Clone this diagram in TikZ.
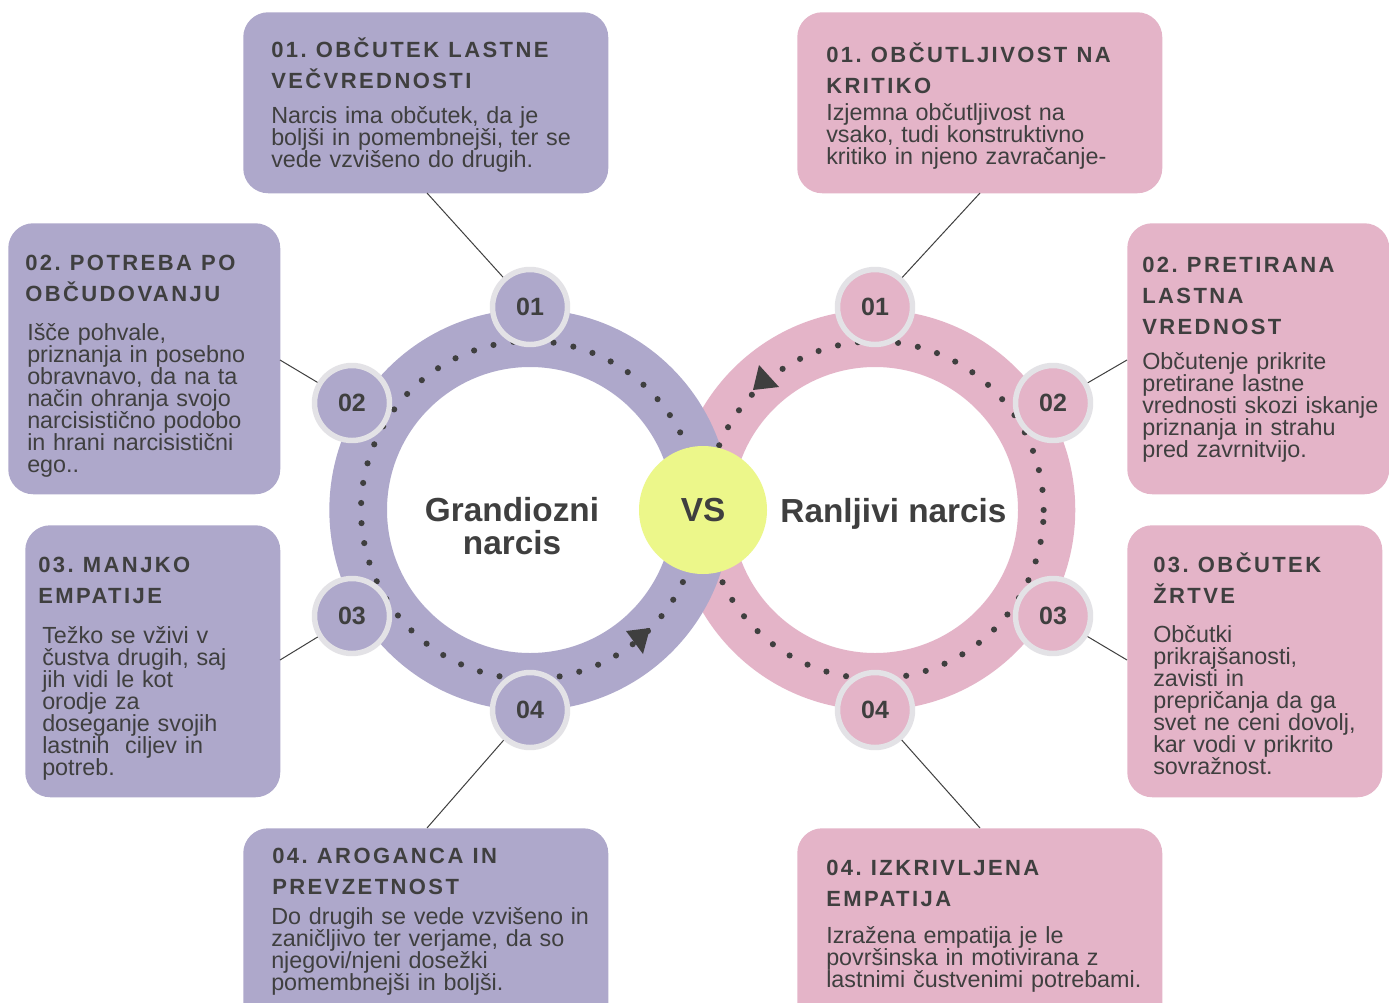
\documentclass[tikz,border=0pt]{standalone}
\usepackage{fontspec}
\setmainfont{Liberation Sans}
\newfontfamily\headfam[LetterSpace=11]{Liberation Sans}
\definecolor{lav}{HTML}{AEA8CB}
\definecolor{rose}{HTML}{E4B4C8}
\definecolor{vsyellow}{HTML}{ECF78A}
\definecolor{ringgrey}{HTML}{E3E2E6}
\definecolor{ink}{HTML}{3F3F3F}
\newcommand{\hdfont}{\headfam\bfseries\fontsize{16.5pt}{23.25pt}\selectfont\lineskiplimit=-100pt}
\newcommand{\bdfont}{\fontsize{17.5pt}{16.5pt}\selectfont\lineskiplimit=-100pt}
\newcommand{\numfont}{\bfseries\fontsize{18.75pt}{20pt}\selectfont}
\newcommand{\ttlfont}{\bfseries\fontsize{25pt}{24.75pt}\selectfont\lineskiplimit=-100pt}
\newcommand{\ws}{\hspace{0.42em}}
\tikzset{
  box/.style={rectangle, rounded corners=18.75pt, inner sep=0pt, anchor=north west},
  lbox/.style={box, fill=lav},
  rbox/.style={box, fill=rose},
  num/.style={circle, minimum size=56.25pt, inner sep=0pt, line width=4.1pt, draw=ringgrey, font=\numfont, text=ink},
  conn/.style={draw=ink, line width=0.75pt},
  head/.style={anchor=base west, inner sep=0pt, align=left, text=ink, font=\hdfont},
  body/.style={anchor=base west, inner sep=0pt, align=left, text=ink, font=\bdfont},
  ttl/.style={inner sep=0pt, text=ink, font=\ttlfont},
  dots/.style={draw=ink, line width=4.6pt, line cap=round, dash pattern=on 0pt off 15.115pt},
  tip/.style={fill=ink},
}
\begin{document}
\begin{tikzpicture}[x=0.75pt,y=-0.75pt]
\useasboundingbox (0,0) rectangle (1389,1003);
\clip (0,0) rectangle (1389,1003);
\fill[white] (0,0) rectangle (1389,1003);

% boxes
\node[lbox, minimum width=273.75pt, minimum height=135.75pt] (L1) at (243,12) {};
\node[lbox, minimum width=204pt, minimum height=203.25pt] (L2) at (8,223) {};
\node[lbox, minimum width=191.25pt, minimum height=204pt] (L3) at (25,525) {};
\node[lbox, minimum width=273.75pt, minimum height=150pt] (L4) at (243,828) {};
\node[rbox, minimum width=273.75pt, minimum height=135.75pt] (R1) at (797,12) {};
\node[rbox, minimum width=196.5pt, minimum height=203.25pt] (R2) at (1127,223) {};
\node[rbox, minimum width=191.25pt, minimum height=204pt] (R3) at (1127,525) {};
\node[rbox, minimum width=273.75pt, minimum height=150pt] (R4) at (797,828) {};

% box texts
\node[head, text width=258.75pt] (L1h) at (271,57) {01.\ws OBČUTEK\ws LASTNE\\VEČVREDNOSTI};
\node[body, text width=258.75pt] (L1b) at (271,123) {Narcis ima občutek, da je\\boljši in pomembnejši, ter se\\vede vzvišeno do drugih.};
\node[head, text width=195pt] (L2h) at (25,270) {02.\ws POTREBA\ws PO\\OBČUDOVANJU};
\node[body, text width=195pt] (L2b) at (27,340) {Išče pohvale,\\priznanja in posebno\\obravnavo, da na ta\\način ohranja svojo\\narcisistično podobo\\in hrani narcisistični\\ego..};
\node[head, text width=180pt] (L3h) at (38,572) {03.\ws MANJKO\\EMPATIJE};
\node[body, text width=180pt] (L3b) at (42,643) {Težko se vživi v\\čustva drugih, saj\\jih vidi le kot\\orodje za\\doseganje svojih\\lastnih\ \ ciljev in\\potreb.};
\node[head, text width=258.75pt] (L4h) at (272,863) {04.\ws AROGANCA\ws IN\\PREVZETNOST};
\node[body, text width=258.75pt] (L4b) at (271,924) {Do drugih se vede vzvišeno in\\zaničljivo ter verjame, da so\\njegovi/njeni dosežki\\pomembnejši in boljši.};
\node[head, text width=258.75pt] (R1h) at (826,62) {01.\ws OBČUTLJIVOST\ws NA\\KRITIKO};
\node[body, text width=258.75pt] (R1b) at (826,120) {Izjemna občutljivost na\\vsako, tudi konstruktivno\\kritiko in njeno zavračanje-};
\node[head, text width=180pt] (R2h) at (1142,272) {02.\ws PRETIRANA\\LASTNA\\VREDNOST};
\node[body, text width=180pt] (R2b) at (1142,369) {Občutenje prikrite\\pretirane lastne\\vrednosti skozi iskanje\\priznanja in strahu\\pred zavrnitvijo.};
\node[head, text width=168pt] (R3h) at (1153,572) {03.\ws OBČUTEK\\ŽRTVE};
\node[body, text width=168pt] (R3b) at (1153,642) {Občutki\\prikrajšanosti,\\zavisti in\\prepričanja da ga\\svet ne ceni dovolj,\\kar vodi v prikrito\\sovražnost.};
\node[head, text width=258.75pt] (R4h) at (826,875) {04.\ws IZKRIVLJENA\\EMPATIJA};
\node[body, text width=258.75pt] (R4b) at (826,943) {Izražena empatija je le\\površinska in motivirana z\\lastnimi čustvenimi potrebami.};

% rings
\fill[rose, even odd rule] (875,510) circle[radius=150.2pt] (875,510) circle[radius=107.25pt];
\fill[lav, even odd rule] (530,510) circle[radius=150.5pt] (530,510) circle[radius=107.25pt];
\draw[dots] (530,510) circle[radius=126.75pt];
\draw[dots] (875,510) circle[radius=126.5pt];
\fill[tip] (650,628) -- (626,631) -- (643,654) -- cycle;
\fill[tip] (753,390) -- (759,365) -- (779,387) -- cycle;

% titles
\node[ttl, text width=160pt, align=center, anchor=base] (gt) at (512,521) {Grandiozni\\narcis};
\node[ttl, anchor=base] (rt) at (893.5,522) {Ranljivi narcis};
\node[circle, fill=vsyellow, minimum size=96pt, inner sep=0pt, text=ink, font=\ttlfont] (vs) at (703,510) {VS};

% connector end points
\coordinate (l1e) at (427,193);
\coordinate (l2e) at (280,360);
\coordinate (l3e) at (280,660);
\coordinate (l4e) at (427,828);
\coordinate (r1e) at (980,193);
\coordinate (r2e) at (1127,360);
\coordinate (r3e) at (1127,660);
\coordinate (r4e) at (980,828);

% number circles
\node[num, fill=lav] (l1) at (530,307) {01};
\node[num, fill=lav] (l2) at (352,403) {02};
\node[num, fill=lav] (l3) at (352,616) {03};
\node[num, fill=lav] (l4) at (530,710) {04};
\node[num, fill=rose] (r1) at (875,307) {01};
\node[num, fill=rose] (r2) at (1053,403) {02};
\node[num, fill=rose] (r3) at (1053,616) {03};
\node[num, fill=rose] (r4) at (875,710) {04};

\draw[conn] (l1e) -- (l1);
\draw[conn] (l2e) -- (l2);
\draw[conn] (l3e) -- (l3);
\draw[conn] (l4e) -- (l4);
\draw[conn] (r1e) -- (r1);
\draw[conn] (r2e) -- (r2);
\draw[conn] (r3e) -- (r3);
\draw[conn] (r4e) -- (r4);
\end{tikzpicture}
\end{document}
